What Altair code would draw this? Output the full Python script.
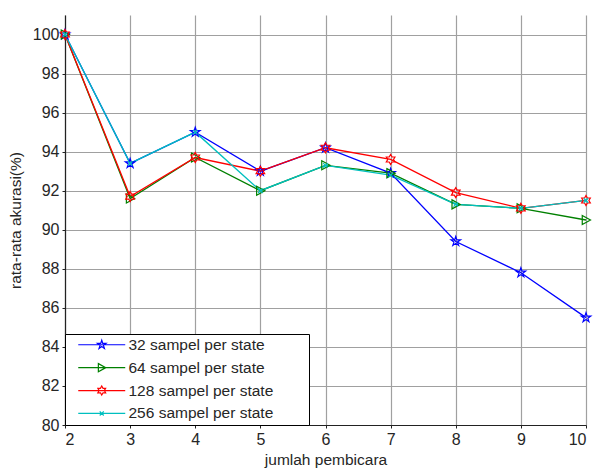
import altair as alt
import pandas as pd

speakers = [2, 3, 4, 5, 6, 7, 8, 9, 10]
series_names = ["32 sampel per state", "64 sampel per state",
                "128 sampel per state", "256 sampel per state"]
acc_32 = [100, 93.4, 95.0, 93.0, 94.2, 92.9, 89.4, 87.8, 85.5]
acc_64 = [100, 91.6, 93.7, 92.0, 93.3, 92.9, 91.3, 91.1, 90.5]
acc_128 = [100, 91.7, 93.7, 93.0, 94.2, 93.6, 91.9, 91.1, 91.5]
acc_256 = [100, 93.4, 95.0, 92.0, 93.3, 92.8, 91.3, 91.1, 91.5]
y_ticks = list(range(80, 101, 2))

rows = []
for name, vals in zip(series_names, [acc_32, acc_64, acc_128, acc_256]):
    for s, v in zip(speakers, vals):
        rows.append({"speakers": s, "acc": v, "series": name})
df = pd.DataFrame(rows)

colors = ["#0000ff", "#008000", "#ff0000", "#00bfbf"]

# marker outlines (unit coordinates) -- styling only
star5_pts = [(0, -1), (0.225, -0.309), (0.951, -0.309), (0.363, 0.118), (0.588, 0.809),
             (0, 0.382), (-0.588, 0.809), (-0.363, 0.118), (-0.951, -0.309), (-0.225, -0.309)]
tri_pts = [(-0.75, -0.9), (0.9, 0), (-0.75, 0.9)]
star6_pts = [(0, -1), (0.289, -0.5), (0.866, -0.5), (0.577, 0), (0.866, 0.5), (0.289, 0.5),
             (0, 1), (-0.289, 0.5), (-0.866, 0.5), (-0.577, 0), (-0.866, -0.5), (-0.289, -0.5)]


def poly(pts, dx=0.0):
    return "M" + "L".join(f"{x + dx:.3f},{y:.3f}" for x, y in pts) + "Z"


def xpath(dx=0.0, r=0.45):
    return (f"M{dx - r:.3f},{-r}L{dx + r:.3f},{r}"
            f"M{dx - r:.3f},{r}L{dx + r:.3f},{-r}")


shapes = [poly(star5_pts), poly(tri_pts), poly(star6_pts), xpath()]
x0 = 0.556
mid = x0 + 5.22
seg = f"M{x0},0H{x0 + 10.44:.3f}"
leg_shapes = [seg + poly(star5_pts, mid), seg + poly(tri_pts, mid),
              seg + poly(star6_pts, mid), seg + xpath(mid)]

x_enc = alt.X("speakers:Q", scale=alt.Scale(domain=[2, 10], nice=False),
              axis=alt.Axis(values=speakers, title="jumlah pembicara",
                            format="d", grid=True))
y_enc = alt.Y("acc:Q", scale=alt.Scale(domain=[80, 101], nice=False),
              axis=alt.Axis(values=y_ticks, title="rata-rata akurasi(%)",
                            grid=True))


def color_enc(legend):
    return alt.Color("series:N", scale=alt.Scale(domain=series_names, range=colors),
                     sort=series_names, legend=legend)


lines = alt.Chart(df).mark_line(strokeWidth=1.3).encode(
    x=x_enc, y=y_enc, color=color_enc(None), detail="series:N",
)

points = alt.Chart(df).mark_point(filled=False, size=100, strokeWidth=1.2, opacity=1).encode(
    x=x_enc, y=y_enc, color=color_enc(None),
    shape=alt.Shape("series:N", scale=alt.Scale(domain=series_names, range=shapes),
                    legend=None),
)

leg = alt.Legend(
    orient="bottom-left", offset=0, title=None,
    symbolSize=81, labelOffset=45, padding=3, rowPadding=5.9,
    symbolStrokeWidth=1.2, symbolOpacity=1, symbolFillColor="transparent",
    labelFontSize=15.5, labelColor="#262626", labelFont="Liberation Sans",
    labelLimit=400,
    labelExpr="datum.label + '  \u2800\u2800'",
    strokeColor="black", fillColor="white",
)

legend_layer = alt.Chart(df).mark_point(filled=False, size=81, opacity=0).encode(
    x=x_enc, y=y_enc, color=color_enc(leg),
    shape=alt.Shape("series:N", scale=alt.Scale(domain=series_names, range=leg_shapes),
                    sort=series_names, legend=leg),
)

chart = alt.layer(lines, points, legend_layer).resolve_scale(
    color="independent", shape="independent"
).resolve_legend(color="independent", shape="independent").properties(
    width=521, height=410,
    autosize=alt.AutoSizeParams(type="none"),
    padding={"left": 65, "top": 15, "right": 8, "bottom": 44},
).configure_view(stroke=None).configure_axis(
    labelFont="Liberation Sans", titleFont="Liberation Sans",
    labelFontSize=16, titleFontSize=15.5, titleFontWeight="normal",
    labelColor="#262626", titleColor="#262626",
    domainColor="#222222", domainWidth=1.2,
    tickColor="#222222", tickSize=3,
    gridColor="#a0a0a0", gridWidth=1.2, gridOpacity=1,
).configure_axisX(labelPadding=3, titlePadding=5).configure_axisY(
    labelPadding=3, titlePadding=9)

chart.save("out.html", embed_options={"renderer": "svg", "actions": False})
